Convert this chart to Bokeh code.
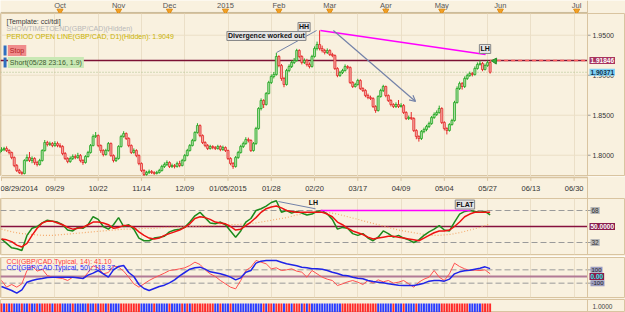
from bokeh.plotting import figure
from bokeh.models import (Range1d, ColumnDataSource, FixedTicker, Label, Span, Arrow,
                          OpenHead, Grid)
from bokeh.layouts import column
from bokeh.embed import file_html
from bokeh.resources import INLINE
from bokeh.core.properties import value

# ---------------- data ----------------
first_bar = -1
first_open = 1.8030
close = [1.8059,1.8071,1.8084,1.8059,1.8034,1.7971,1.7871,1.7809,1.7784,1.7771,
         1.7934,1.7971,1.7934,1.7959,1.7909,1.7884,1.7934,1.8059,1.8159,1.8134,
         1.8146,1.8121,1.8146,1.8121,1.8109,1.8021,1.7959,1.7921,1.7959,1.7984,
         1.7971,1.7996,1.7934,1.7909,1.7984,1.8034,1.8121,1.8234,1.8246,1.8121,
         1.8059,1.8009,1.8059,1.8146,1.7996,1.7934,1.7959,1.8109,1.8234,1.8271,
         1.8209,1.8121,1.8034,1.8059,1.7996,1.7896,1.7809,1.7759,1.7784,1.7796,
         1.7784,1.7771,1.7784,1.7809,1.7859,1.7884,1.7909,1.7859,1.7871,1.7859,
         1.7896,1.7871,1.7934,1.7996,1.8059,1.8121,1.8184,1.8284,1.8371,1.8246,
         1.8159,1.8121,1.8084,1.8109,1.8096,1.8084,1.8109,1.8071,1.8096,1.8059,
         1.7959,1.7896,1.7859,1.7971,1.8034,1.8109,1.8146,1.8196,1.8184,1.8059,
         1.8146,1.8334,1.8584,1.8684,1.8634,1.8771,1.8909,1.8984,1.9009,1.9234,
         1.9121,1.8959,1.8884,1.9059,1.9109,1.9159,1.9184,1.9309,1.9234,1.9159,
         1.9184,1.9134,1.9109,1.9234,1.9334,1.9384,1.9334,1.9309,1.9284,1.9309,
         1.9259,1.9246,1.9084,1.8996,1.9034,1.9059,1.9109,1.9096,1.8909,1.8859,
         1.8884,1.8934,1.8834,1.8809,1.8746,1.8721,1.8709,1.8609,1.8559,1.8734,
         1.8809,1.8859,1.8746,1.8684,1.8634,1.8609,1.8634,1.8609,1.8621,1.8534,
         1.8459,1.8471,1.8459,1.8309,1.8234,1.8209,1.8296,1.8321,1.8359,1.8396,
         1.8471,1.8509,1.8534,1.8584,1.8409,1.8334,1.8309,1.8384,1.8434,1.8659,
         1.8834,1.8896,1.8859,1.8959,1.8996,1.9021,1.9009,1.9084,1.9134,1.9146,
         1.9071,1.9121,1.9159,1.9037]
high = [1.8085,1.8100,1.8105,1.8110,1.8075,1.8045,1.7985,1.7890,1.7830,1.7800,
        1.7950,1.8010,1.8040,1.7985,1.7975,1.7930,1.7955,1.8075,1.8190,1.8180,
        1.8170,1.8165,1.8175,1.8170,1.8150,1.8125,1.8040,1.7975,1.7985,1.8010,
        1.8010,1.8030,1.8015,1.7950,1.8000,1.8055,1.8140,1.8260,1.8290,1.8260,
        1.8135,1.8075,1.8080,1.8165,1.8160,1.8010,1.7980,1.8125,1.8255,1.8300,
        1.8285,1.8225,1.8135,1.8085,1.8075,1.8010,1.7910,1.7825,1.7805,1.7820,
        1.7815,1.7800,1.7805,1.7830,1.7880,1.7910,1.7935,1.7925,1.7895,1.7890,
        1.7920,1.7930,1.7955,1.8015,1.8080,1.8140,1.8205,1.8300,1.8400,1.8385,
        1.8260,1.8175,1.8140,1.8130,1.8125,1.8115,1.8130,1.8125,1.8120,1.8110,
        1.8070,1.7975,1.7915,1.7990,1.8055,1.8130,1.8170,1.8225,1.8220,1.8200,
        1.8165,1.8355,1.8600,1.8710,1.8700,1.8790,1.8930,1.9010,1.9040,1.9280,
        1.9250,1.9140,1.8980,1.9080,1.9135,1.9185,1.9215,1.9330,1.9325,1.9250,
        1.9210,1.9205,1.9160,1.9255,1.9360,1.9420,1.9560,1.9370,1.9330,1.9335,
        1.9325,1.9280,1.9260,1.9100,1.9055,1.9080,1.9135,1.9125,1.9110,1.8925,
        1.8905,1.8955,1.8950,1.8850,1.8825,1.8770,1.8745,1.8725,1.8625,1.8750,
        1.8830,1.8880,1.8870,1.8760,1.8700,1.8650,1.8660,1.8690,1.8650,1.8640,
        1.8550,1.8495,1.8540,1.8475,1.8325,1.8250,1.8315,1.8345,1.8380,1.8420,
        1.8490,1.8535,1.8560,1.8620,1.8600,1.8425,1.8350,1.8400,1.8455,1.8680,
        1.8860,1.8920,1.8915,1.8985,1.9020,1.9045,1.9040,1.9110,1.9160,1.9185,
        1.9165,1.9145,1.9185,1.9175]
low = [1.8015,1.8040,1.8050,1.8040,1.8010,1.7950,1.7850,1.7790,1.7765,1.7755,
       1.7760,1.7920,1.7915,1.7900,1.7880,1.7860,1.7870,1.7920,1.8045,1.8110,
       1.8115,1.8100,1.8105,1.8100,1.8090,1.8000,1.7940,1.7900,1.7905,1.7940,
       1.7950,1.7955,1.7910,1.7880,1.7895,1.7970,1.8020,1.8110,1.8215,1.8100,
       1.8030,1.7985,1.7995,1.8045,1.7980,1.7910,1.7915,1.7945,1.8095,1.8220,
       1.8190,1.8100,1.8015,1.8020,1.7975,1.7875,1.7790,1.7740,1.7745,1.7765,
       1.7765,1.7755,1.7760,1.7770,1.7795,1.7840,1.7865,1.7840,1.7840,1.7835,
       1.7845,1.7850,1.7860,1.7920,1.7985,1.8045,1.8110,1.8170,1.8270,1.8225,
       1.8140,1.8100,1.8065,1.8070,1.8075,1.8065,1.8070,1.8050,1.8055,1.8040,
       1.7940,1.7875,1.7830,1.7845,1.7955,1.8020,1.8090,1.8130,1.8160,1.8040,
       1.8045,1.8130,1.8320,1.8560,1.8590,1.8620,1.8760,1.8890,1.8960,1.8995,
       1.9100,1.8930,1.8850,1.8870,1.9040,1.9090,1.9140,1.9170,1.9210,1.9135,
       1.9140,1.9110,1.9085,1.9095,1.9220,1.9310,1.9310,1.9285,1.9260,1.9265,
       1.9240,1.9225,1.9065,1.8975,1.8980,1.9015,1.9045,1.9075,1.8890,1.8840,
       1.8845,1.8870,1.8815,1.8790,1.8725,1.8700,1.8690,1.8590,1.8530,1.8545,
       1.8720,1.8790,1.8725,1.8665,1.8610,1.8590,1.8590,1.8590,1.8595,1.8515,
       1.8440,1.8440,1.8440,1.8290,1.8200,1.8170,1.8190,1.8275,1.8300,1.8340,
       1.8380,1.8455,1.8490,1.8520,1.8390,1.8310,1.8260,1.8295,1.8370,1.8420,
       1.8645,1.8815,1.8820,1.8840,1.8940,1.8980,1.8985,1.8995,1.9070,1.9120,
       1.9050,1.9060,1.9105,1.9020]

date_tick_bars = [0, 21, 38, 55, 72, 89, 106, 123, 140, 157, 174, 191, 208, 225]
date_tick_labels = ["08/29/2014", "09/29", "10/22", "11/14", "12/09", "01/05/2015", "01/28",
                    "02/20", "03/17", "04/09", "05/04", "05/27", "06/13", "06/30"]
month_bars = [23, 46, 66, 88, 109, 129, 151, 173, 196, 226]
month_labels = ["Oct", "Nov", "Dec", "2015", "Feb", "Mar", "Apr", "May", "Jun", "Jul"]
price_ticks = [1.80, 1.85, 1.90, 1.95]
price_tick_labels = ["1.8000", "1.8500", "1.9000", "1.9500"]
stop_level = 1.91846
last_price = 1.90371

tdi_bars = list(range(0, 193, 2))
tdi_price = [36,31,26,25,23,40,48,50,54,57, 56,55,52,46,45,49,48,52,61,58,
             50,47,52,60,50,52,47,37,34,34, 37,38,39,44,46,47,49,55,62,66,
             60,54,53,55,52,45,38,45,55,59, 68,70,73,77,79,66,68,65,67,65,
             63,64,67,68,64,58,47,49,48,42, 40,42,37,34,38,45,42,38,40,37,
             35,32,35,40,44,47,51,46,45,55, 64,67,68,67,66,67,63]
tdi_signal = [36,35,33,29,27,31,40,48,54,56, 56,54,52,49,47,48,49,52,55,55,
              54,52,48,49,51,51,49,44,40,37, 36,37,40,42,44,46,49,53,59,61,
              60,58,55,54,53,50,46,47,51,55, 60,66,70,72,73,71,68,67,66,66,
              66,66,66,66,64,61,55,52,48,45, 43,41,38,36,37,38,39,39,38,37,
              36,35,34,37,40,43,45,45,46,50, 55,61,64,66,66,66,66]
base_bars = list(range(0, 193, 4))
tdi_base = [47,44,42,41,40, 40,41,42,43,44, 45,46,47,47,48, 48,49,49,50,50,
            51,51,52,52,53, 54,56,58,60,63, 65,67,66,64,61, 58,55,52,49,46,
            44,42,40,40,41, 43,46,49,53]
tdi_levels = [32, 50, 68]

cci_bars = list(range(0, 193, 2))
cci14 = [-60,-160,-120,-160,-110,90,160,80,110,15, -10,-20,-30,-60,-10,-20,-30,60,160,130,
         40,60,160,140,80,-10,-110,-160,-110,-60, -20,15,50,90,100,115,130,165,215,180,
         100,40,0,-60,-110,-160,-185,-60,90,140, 240,215,190,115,130,90,100,115,80,65,
         -10,90,40,-10,-40,-60,-135,-110,-80,-60, -85,-120,-60,-100,-50,-80,-60,-100,-85,-60,
         -110,-160,-85,-40,-10,90,-10,-60,40,200, 150,115,90,95,90,100,41]
cci50 = [-150,-180,-210,-250,-200,-85,-60,-40,-30,-15, -10,-10,-10,-10,-10,-20,-30,20,50,90,
         40,-10,100,150,165,60,0,-120,-180,-210, -180,-150,-130,-95,-50,10,60,110,130,140,
         110,70,55,40,20,-10,-50,-20,65,90, 200,230,240,240,240,215,190,175,160,140,
         130,115,115,110,90,65,45,20,10,-10, -25,-35,-60,-75,-85,-95,-110,-120,-130,-135,
         -135,-135,-120,-100,-70,-60,-60,-70,-40,40, 70,85,95,110,125,145,118]
cci_levels = [-100, 0, 100]

strip_states = ("RRBRBR" "BB" "BRBBRBBRBR" "RRRBRRR" "BBBBRBBBBBRBB" "RBRRBR" "BBBB"
                "RRRRRRRR" "BBB" "BBRBBBBBRBBBB" "RBRB" "RRRRRRRRR" "BBRBBBRBBB" "BBBBBBBBB"
                "RBRRBRRRBRRBRRR" "BRBR" "BBBBBBBBBBBB" "RRRRRRRRRRRRRR" "BBBB" "BBRBBBRBBBBRB"
                "BBBBBBBB" "RRRRRRRRRRR" "BBBBB" "RRRR")

# ---------------- style ----------------
BG = "#f9f1df"
FRAME = "#d9c4a0"
GRID = "#ebdfc7"
FONT = "Liberation Sans"
UP_LINE, UP_FILL = "#24a824", "#a9dca0"
DN_LINE, DN_FILL = "#e52a2a", "#f3a9a4"
X0, X1, XE = -0.393, 230.26, 245.19   # left edge, plot/axis boundary, right edge (bar units)
W = 625

xr = Range1d(X0, XE)


def base_fig(h, yr, top=0, bottom=0, outline=FRAME):
    f = figure(width=W, height=h, x_range=xr, y_range=yr, toolbar_location=None,
               output_backend="svg", x_axis_type=None, y_axis_type=None,
               background_fill_color=BG, border_fill_color=BG, outline_line_color=outline)
    f.min_border = 0
    f.min_border_top = top
    f.min_border_bottom = bottom
    f.xgrid.visible = False
    f.ygrid.visible = False
    return f


def add_label(f, x, y, text, fg="#222222", bg=None, border=None, align="center", size="7px",
              bold=False, x_offset=0, y_offset=0, pad=1):
    f.add_layout(Label(x=x, y=y, text=text, text_font=FONT, text_font_size=size, text_color=fg,
                       text_align=align, text_baseline="middle", background_fill_color=bg,
                       border_line_color=border, padding=pad, x_offset=x_offset, y_offset=y_offset,
                       text_font_style="bold" if bold else "normal"))


def hline(f, y, color, width=1.0, dash="solid", x_end=X1):
    f.segment(x0=[X0], y0=[y], x1=[x_end], y1=[y], line_color=color, line_width=width, line_dash=dash)


def vsep(f):
    f.add_layout(Span(location=X1, dimension="height", line_color=FRAME, line_width=1))


xt = FixedTicker(ticks=date_tick_bars)

# ---------------- top month strip ----------------
ft = base_fig(13, Range1d(0, 1), outline=None)
hline(ft, 0.08, "#c9b998")
vsep(ft)
ft.text(x=month_bars, y=[0.62] * len(month_bars), text=month_labels, text_font=value(FONT),
        text_font_size="7.5px", text_color="#555555", text_align="center", text_baseline="middle")
ft.scatter(x=month_bars, y=[0.2] * len(month_bars), marker="inverted_triangle", size=6,
           fill_color="#f2a126", line_color="#e08a10")

# ---------------- price panel ----------------
fp = base_fig(163, Range1d(1.7734, 1.97715))
fp.add_layout(Grid(dimension=0, ticker=xt, grid_line_color=GRID))
for t in price_ticks:
    hline(fp, t, GRID)
vsep(fp)

bars = list(range(first_bar, first_bar + len(close)))
opens = [first_open] + close[:-1]
up = [c >= o for o, c in zip(opens, close)]
src = ColumnDataSource(dict(
    x=bars, h=high, l=low,
    top=[max(o, c) for o, c in zip(opens, close)],
    bot=[min(o, c) for o, c in zip(opens, close)],
    line=[UP_LINE if u else DN_LINE for u in up],
    fill=[UP_FILL if u else DN_FILL for u in up]))

hline(fp, last_price, "#a9c08a", 1, "1 2")
hline(fp, stop_level, "#7c1034", 1.5)
fp.segment(x0=[bars[-1]], y0=[stop_level], x1=[X1], y1=[stop_level], line_color="#ff5a5a",
           line_width=1.5, line_dash="4 3")

fp.segment(x0="x", y0="h", x1="x", y1="l", line_color="line", line_width=1, source=src)
fp.vbar(x="x", width=0.8, top="top", bottom="bot", fill_color="fill", line_color="line",
        line_width=0.8, source=src)

# drawn objects (user trend lines)
fp.line(x=[108.1, 123.8], y=[1.9284, 1.9559], line_color="#7382a8", line_width=1)
fp.add_layout(Arrow(end=OpenHead(size=6, line_color="#7382a8", line_width=1.2),
                    x_start=130.4, y_start=1.9559, x_end=162.7, y_end=1.8671,
                    line_color="#7382a8", line_width=1.2))
fp.line(x=[125.3, 190.2], y=[1.9559, 1.9259], line_color="#ff00ff", line_width=1.5)
fp.scatter(x=[193.8], y=[1.9178], marker="triangle", size=6, angle=3.6,
           fill_color="#39b039", line_color="#2a8a2a")

# right price scale
fp.segment(x0=[X1] * len(price_ticks), y0=price_ticks, x1=[X1 + 1.2] * len(price_ticks),
           y1=price_ticks, line_color="#999999")
fp.text(x=[X1] * len(price_ticks), y=price_ticks, text=price_tick_labels, x_offset=5,
        text_font=value(FONT), text_font_size="7px", text_color="#333333",
        text_align="left", text_baseline="middle")
add_label(fp, X1, stop_level, "1.91846", fg="#ffffff", bg="#a8345e", align="left", size="6.5px",
          bold=True, x_offset=2)
add_label(fp, X1, last_price, "1.90371", fg="#10304a", bg="#7fd0f5", align="left", size="6.5px",
          bold=True, x_offset=2)

# overlay texts
add_label(fp, 1.57, 1.96715, "[Template: cci/tdi]", fg="#3a3a3a", align="left")
add_label(fp, 1.57, 1.95778, "SHOWTIMETOEND(GBP/CAD)(Hidden)", fg="#b8b8b8", align="left")
add_label(fp, 1.57, 1.94778, "PERIOD OPEN LINE(GBP/CAD, D1)(Hidden): 1.9049", fg="#c9b200", align="left")
fp.segment(x0=[1.4, 1.4], y0=[1.9372, 1.9222], x1=[1.4, 1.4], y1=[1.9247, 1.9097],
           line_color="#2f6fc0", line_width=3)
add_label(fp, 2.5, 1.9309, "Stop", fg="#b02020", bg="#f08c8c", align="left", pad=2)
add_label(fp, 2.5, 1.9159, "Short(05/28 23:16, 1.9)", fg="#3c5a30", bg="#c9e8b4", align="left", pad=2)
add_label(fp, 118.9, 1.96028, "HH", fg="#111111", bg="#e4e4e4", border="#888888", bold=True)
add_label(fp, 104.1, 1.94903, "Divergence worked out", fg="#111111", bg="#e4e4e4", border="#888888",
          bold=True)
add_label(fp, 190.0, 1.93278, "LH", fg="#111111", bg="#e4e4e4", border="#888888", bold=True)

# ---------------- date scale ----------------
fx = base_fig(22, Range1d(0, 1), outline=None)
hline(fx, 0.97, FRAME, 2)
vsep(fx)
fx.segment(x0=date_tick_bars, y0=[1.0] * len(date_tick_bars), x1=date_tick_bars,
           y1=[0.8] * len(date_tick_bars), line_color=FRAME)
fx.text(x=date_tick_bars, y=[0.45] * len(date_tick_bars), text=date_tick_labels,
        text_align=["left"] + ["center"] * (len(date_tick_bars) - 1), x_offset=[-1] + [0] * (len(date_tick_bars) - 1),
        text_font=value(FONT), text_font_size="7.5px", text_color="#333333", text_baseline="middle")

# ---------------- TDI panel ----------------
fd = base_fig(58, Range1d(18.5, 81.5), bottom=2)
fd.add_layout(Grid(dimension=0, ticker=xt, grid_line_color=GRID))
vsep(fd)
hline(fd, tdi_levels[0], "#9a9a9a", 1, "6 3", X1 + 2)
hline(fd, tdi_levels[2], "#9a9a9a", 1, "6 3", X1 + 2)
hline(fd, tdi_levels[1], "#86103e", 1.5)
fd.line(x=base_bars, y=tdi_base, line_color="#f4a96a", line_width=1.2, line_dash="1 2")
fd.line(x=tdi_bars, y=tdi_price, line_color="#1c8a1c", line_width=1.5)
fd.line(x=tdi_bars, y=tdi_signal, line_color="#ee1111", line_width=1.5)
fd.line(x=[108.8, 123.4], y=[78.1, 69.9], line_color="#7382a8", line_width=1)
fd.line(x=[125.3, 184.3], y=[68, 68], line_color="#ff00ff", line_width=1.5)
add_label(fd, 122.6, 77.0, "LH", fg="#111111", bold=True)
add_label(fd, 182.1, 74.7, "FLAT", fg="#111111", bg="#e4e4e4", border="#888888", bold=True)
add_label(fd, X1, 68, "68", fg="#333333", bg="#b8b8b8", align="left", x_offset=3, size="6.5px")
add_label(fd, X1, 50, "50.0000", fg="#ffffff", bg="#8a1c4c", align="left", size="6.5px", bold=True,
          x_offset=2)
add_label(fd, X1, 32, "32", fg="#333333", bg="#b8b8b8", align="left", x_offset=3, size="6.5px")

# ---------------- CCI panel ----------------
fc = base_fig(43, Range1d(-315, 285), top=1, bottom=2)
fc.add_layout(Grid(dimension=0, ticker=xt, grid_line_color=GRID))
vsep(fc)
hline(fc, cci_levels[0], "#9a9a9a", 1, "6 3", X1 + 2)
hline(fc, cci_levels[2], "#9a9a9a", 1, "6 3", X1 + 2)
hline(fc, cci_levels[1], "#b27a96", 2)
fc.line(x=cci_bars, y=cci14, line_color="#ff5050", line_width=1)
fc.line(x=cci_bars, y=cci50, line_color="#1f24e8", line_width=1.5)
add_label(fc, 1.57, 232, "CCI(GBP/CAD.Typical, 14): 41.10", fg="#ff3b3b", align="left")
add_label(fc, 1.57, 135, "CCI(GBP/CAD.Typical, 50): 118.37", fg="#2b2bff", align="left")
add_label(fc, X1, 100, "100", fg="#222222", bg="#9c9cc0", align="left", x_offset=3, size="6px")
add_label(fc, X1, -100, "-100", fg="#222222", bg="#9c9cc0", align="left", x_offset=3, size="6px")
add_label(fc, X1, 0, "0.00", fg="#2ef0f0", bg="#8a1c4c", align="left", size="6.5px", bold=True, x_offset=2)

# ---------------- color strip ----------------
fs = base_fig(13, Range1d(0, 1))
vsep(fs)
sx = list(range(first_bar, first_bar + len(strip_states)))
scol = ["#ff2a2a" if s == "R" else "#2a3cff" for s in strip_states]
fs.vbar(x=sx, width=0.75, top=0.69, bottom=0, fill_color=scol, line_color=None)
add_label(fs, X1, 0.46, "1.0000", fg="#444444", align="left", x_offset=4, size="6.5px")

layout = column(ft, fp, fx, fd, fc, fs, spacing=0)
open("out.html", "w").write(file_html(layout, INLINE))
